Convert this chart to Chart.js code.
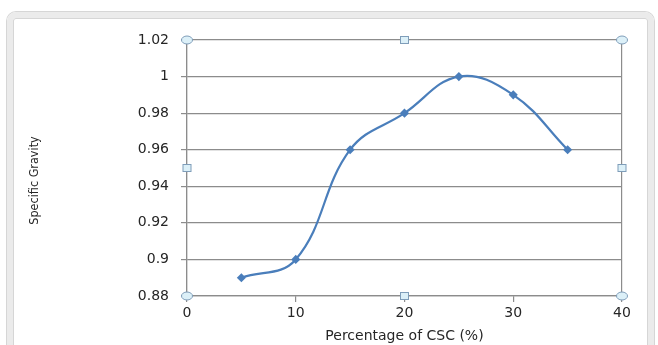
<!DOCTYPE html>
<html lang="en">
<head>
    <meta charset="UTF-8">
    <title>Specific Gravity vs Percentage of CSC</title>
    <script src="https://cdn.jsdelivr.net/npm/chart.js"></script>
    <style>
        body { margin: 0; background: #fff; }
        #wrap { position: relative; width: 658px; height: 345px; overflow: hidden; }
        /* Excel chart frame */
        #frame {
            position: absolute; left: 7px; top: 12px; width: 635px; height: 330px;
            border: 6px solid #ebebeb; border-radius: 9px;
            box-shadow: 0 0 0 1px #d6d6d6, inset 0 0 0 1px #d6d6d6;
        }
        canvas { position: absolute; left: 0; top: 0; }
    </style>
</head>
<body>
<div id="wrap">
    <div id="frame"></div>
    <canvas id="grafico" width="658" height="345"></canvas>
</div>
<script>
    // dados
    var percentCSC = [5, 10, 15, 20, 25, 30, 35];
    var specificGravity = [0.89, 0.90, 0.96, 0.98, 1.00, 0.99, 0.96];
    var xTicks = [0, 10, 20, 30, 40];
    var yTicks = [0.88, 0.9, 0.92, 0.94, 0.96, 0.98, 1, 1.02];

    var lineColor = "#4a7ebb";
    var axisColor = "#8c8c8c";
    var leftPad = 27;

    // alças de seleção do Excel (cantos e meios da área de plotagem)
    var handles = {
        id: "handles",
        afterDraw: function (chart) {
            var a = chart.chartArea, ctx = chart.ctx;
            var mx = (a.left + a.right) / 2, my = (a.top + a.bottom) / 2;
            ctx.save();
            ctx.fillStyle = "#dcf0f8";
            ctx.strokeStyle = "#7f9db9";
            ctx.lineWidth = 1;
            [[a.left, a.top], [a.right, a.top], [a.left, a.bottom], [a.right, a.bottom]].forEach(function (p) {
                ctx.beginPath();
                ctx.ellipse(p[0], p[1], 5.5, 4, 0, 0, Math.PI * 2);
                ctx.fill(); ctx.stroke();
            });
            [[mx, a.top], [mx, a.bottom], [a.left, my], [a.right, my]].forEach(function (p) {
                ctx.fillRect(p[0] - 4, p[1] - 3.5, 8, 7);
                ctx.strokeRect(p[0] - 4, p[1] - 3.5, 8, 7);
            });
            ctx.restore();
        }
    };

    var ctx = document.getElementById("grafico").getContext("2d");
    var grafico = new Chart(ctx, {
        type: "line",
        data: {
            datasets: [{
                label: "Specific Gravity",
                data: percentCSC.map(function (x, i) { return { x: x, y: specificGravity[i] }; }),
                borderColor: lineColor,
                backgroundColor: lineColor,
                borderWidth: 2.2,
                tension: 0.4,
                pointStyle: "rectRot",
                pointRadius: 3,
                pointHoverRadius: 3
            }]
        },
        options: {
            responsive: false,
            animation: false,
            layout: { padding: { left: leftPad, right: 36, top: 40, bottom: 0 } },
            plugins: { legend: { display: false }, tooltip: { enabled: false } },
            scales: {
                x: {
                    type: "linear",
                    min: 0, max: 40,
                    afterBuildTicks: function (s) { s.ticks = xTicks.map(function (v) { return { value: v }; }); },
                    afterFit: function (s) { s.height = 49; },
                    grid: {
                        color: function (c) { return (c.tick && (c.tick.value === 0 || c.tick.value === 40)) ? axisColor : "rgba(0,0,0,0)"; },
                        tickColor: axisColor,
                        tickLength: 6,
                        lineWidth: 1.2
                    },
                    border: { color: axisColor, width: 1.2 },
                    ticks: { color: "#262626", padding: 3, font: { family: "DejaVu Sans", size: 14 } },
                    title: {
                        display: true,
                        text: "Percentage of CSC (%)",
                        color: "#262626",
                        padding: 0,
                        font: { family: "DejaVu Sans", size: 14 }
                    }
                },
                y: {
                    min: 0.88, max: 1.02,
                    afterBuildTicks: function (s) { s.ticks = yTicks.map(function (v) { return { value: v }; }); },
                    afterFit: function (s) { s.width = 187 - leftPad; },
                    grid: { color: axisColor, tickColor: axisColor, tickLength: 6, lineWidth: 1.2 },
                    border: { color: axisColor, width: 1.2 },
                    ticks: {
                        color: "#262626", padding: 12, font: { family: "DejaVu Sans", size: 14 },
                        callback: function (v) { return String(+v.toFixed(2)); }
                    },
                    title: {
                        display: true,
                        text: "Specific Gravity       ",
                        color: "#262626",
                        padding: 0,
                        font: { family: "DejaVu Sans Condensed, Liberation Sans", size: 12.5 }
                    }
                }
            }
        },
        plugins: [handles]
    });
</script>
</body>
</html>
